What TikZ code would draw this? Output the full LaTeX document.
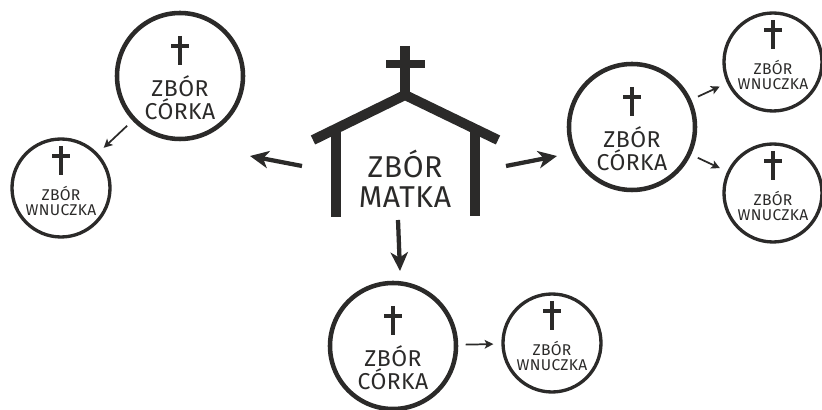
\documentclass[tikz,border=0pt]{standalone}
\usepackage{fontspec}
\usepackage{xcolor}
\usetikzlibrary{arrows.meta, calc}
\setmainfont[LetterSpace=2]{Fira Sans}
\definecolor{DarkInk}{HTML}{2B2A29}
\tikzset{
  corka/.style={circle, draw=DarkInk, line width=3.4pt, minimum size=94.5pt, inner sep=0pt},
  wnuczka/.style={circle, draw=DarkInk, line width=2.5pt, minimum size=73.5pt, inner sep=0pt},
  corkatext/.style={text=DarkInk, align=center, inner sep=0pt, font=\fontsize{17.2}{17.25}\selectfont},
  wnuczkatext/.style={text=DarkInk, align=center, inner sep=0pt, font=\fontsize{11.7}{11.25}\selectfont},
  matkatext/.style={text=DarkInk, align=center, inner sep=0pt, font=\fontsize{22.6}{22.5}\selectfont},
  bigarrow/.style={draw=DarkInk, line width=3.2pt, -{Stealth[length=14pt, width=13pt, inset=4pt]}},
  smallarrow/.style={draw=DarkInk, line width=1.3pt, shorten <=5.5pt, shorten >=6pt, -{Stealth[length=6.5pt, width=6.5pt, inset=1.5pt]}},
  churchline/.style={draw=DarkInk, line width=7pt},
  krzyz/.pic={
    \draw[DarkInk, line width=3.3pt] (0,0) -- (0,-29) (-9,-10) -- (9,-10);
  }
}
\begin{document}
\begin{tikzpicture}[x=0.75pt, y=0.75pt]
\useasboundingbox (0,0) rectangle (822,410);
% matka
\draw[churchline] (405,364) -- (405,315);
\draw[churchline, line width=6.2pt] (386,346) -- (425,346);
\draw[churchline, line width=7.5pt] (313,270) -- (405,315) -- (498,270);
\draw[churchline] (336,282) -- (336,193);
\draw[churchline] (475,282) -- (475,194);
\node[matkatext] (matka) at (405,231) {ZBÓR\\MATKA};
% corki
\node[corka] (corkaA) at (180,334) {};
\node[corka] (corkaB) at (632,283) {};
\node[corka] (corkaC) at (393,64) {};
\foreach \c in {corkaA,corkaB,corkaC}{
  \path ($(\c)+(0,40)$) pic {krzyz};
  \node[corkatext] (\c text) at ($(\c)+(0,-22)$) {ZBÓR\\CÓRKA};
}
% wnuczki
\node[wnuczka] (wnuczkaA) at (61,222) {};
\node[wnuczka] (wnuczkaB) at (773,348) {};
\node[wnuczka] (wnuczkaC) at (773,217) {};
\node[wnuczka] (wnuczkaD) at (552,67) {};
\foreach \w in {wnuczkaA,wnuczkaB,wnuczkaC,wnuczkaD}{
  \path ($(\w)+(0,42)$) pic {krzyz};
  \node[wnuczkatext] (\w text) at ($(\w)+(0,-12.5)$) {ZBÓR\\WNUCZKA};
}
% arrows
\coordinate (startL) at (302,244);
\coordinate (endL) at (250,254);
\coordinate (startR) at (506,244);
\coordinate (endR) at (557,254);
\coordinate (startD) at (398,190);
\coordinate (endD) at (400,139);
\draw[bigarrow] (startL) -- (endL);
\draw[bigarrow] (startR) -- (endR);
\draw[bigarrow] (startD) -- (endD);
\draw[smallarrow] (corkaA) -- (wnuczkaA);
\draw[smallarrow] (corkaB) -- (wnuczkaB);
\draw[smallarrow] (corkaB) -- (wnuczkaC);
\draw[smallarrow] (corkaC) -- (wnuczkaD);
\end{tikzpicture}
\end{document}
